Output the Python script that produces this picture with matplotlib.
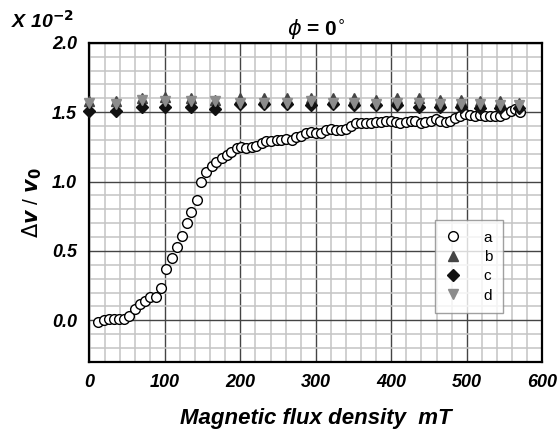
import matplotlib
matplotlib.use("Agg")
import matplotlib.pyplot as plt
from matplotlib.ticker import MultipleLocator

plt.rcParams['font.family'] = ['Liberation Sans', 'DejaVu Sans']

# series a (open circles)
x_a = [12, 19, 26, 32, 39, 46, 53, 60, 67, 74, 80, 88, 95, 102, 109, 116, 122,
       129, 135, 142, 148, 155, 162, 168, 175, 182, 188, 195, 201, 208, 215,
       221, 228, 234, 241, 248, 254, 261, 268, 274, 281, 287, 294, 300, 307,
       314, 320, 327, 333, 340, 347, 353, 360, 366, 373, 380, 386, 393, 399,
       406, 412, 419, 426, 432, 439, 445, 452, 459, 465, 472, 478, 485, 491,
       498, 504, 511, 518, 524, 531, 538, 544, 551, 558, 564, 570]
y_a = [-0.01, 0.00, 0.01, 0.01, 0.01, 0.01, 0.03, 0.08, 0.12, 0.14, 0.17, 0.17,
       0.23, 0.37, 0.45, 0.53, 0.61, 0.70, 0.78, 0.87, 1.00, 1.07, 1.11, 1.14,
       1.17, 1.19, 1.21, 1.24, 1.25, 1.24, 1.25, 1.26, 1.28, 1.29, 1.29, 1.30,
       1.30, 1.31, 1.30, 1.32, 1.33, 1.35, 1.36, 1.35, 1.35, 1.37, 1.38, 1.37,
       1.37, 1.38, 1.40, 1.42, 1.42, 1.42, 1.42, 1.43, 1.43, 1.44, 1.44, 1.43,
       1.42, 1.43, 1.44, 1.44, 1.42, 1.43, 1.44, 1.45, 1.44, 1.43, 1.44, 1.46,
       1.47, 1.49, 1.48, 1.47, 1.48, 1.47, 1.47, 1.47, 1.47, 1.49, 1.51, 1.52,
       1.50]

# series b, c, d share x positions
x_bcd = [0, 35, 70, 100, 134, 167, 199, 231, 262, 293, 323, 351, 380, 408,
         437, 464, 492, 518, 544, 569]
y_b = [1.58, 1.58, 1.60, 1.61, 1.60, 1.59, 1.60, 1.60, 1.60, 1.60, 1.60, 1.60,
       1.59, 1.60, 1.60, 1.59, 1.59, 1.58, 1.58, 1.57]
y_c = [1.51, 1.51, 1.54, 1.54, 1.54, 1.52, 1.56, 1.56, 1.56, 1.55, 1.56, 1.55,
       1.55, 1.55, 1.54, 1.54, 1.54, 1.53, 1.53, 1.53]
y_d = [1.57, 1.56, 1.59, 1.58, 1.58, 1.58, 1.57, 1.57, 1.57, 1.58, 1.57, 1.57,
       1.56, 1.57, 1.57, 1.56, 1.56, 1.56, 1.55, 1.55]

fig = plt.figure(figsize=(5.59, 4.33), dpi=100)
ax = fig.add_axes([0.160, 0.164, 0.810, 0.737])

ax.plot(x_a, y_a, 'o', ms=7, mfc='white', mec='black', mew=1.0, label='a',
        zorder=3, clip_on=False)
ax.plot(x_bcd, y_b, '^', ms=7, color='#444444', label='b', zorder=4, clip_on=False)
ax.plot(x_bcd, y_c, 'D', ms=6, color='#111111', label='c', zorder=5, clip_on=False)
ax.plot(x_bcd, y_d, 'v', ms=7, color='#8c8c8c', label='d', zorder=6, clip_on=False)

ax.set_xlim(0, 600)
ax.set_ylim(-0.3, 2.0)
ax.xaxis.set_major_locator(MultipleLocator(100))
ax.xaxis.set_minor_locator(MultipleLocator(20))
ax.yaxis.set_major_locator(MultipleLocator(0.5))
ax.yaxis.set_minor_locator(MultipleLocator(0.1))
ax.grid(which='minor', color='#c4c4c4', lw=1.1, zorder=0)
ax.grid(which='major', color='#444444', lw=1.0, zorder=1)
ax.set_axisbelow(True)
ax.tick_params(which='both', length=0, pad=9)
ax.set_yticks([0.0, 0.5, 1.0, 1.5, 2.0])
ax.set_yticklabels(['0.0', '0.5', '1.0', '1.5', '2.0'])
for lab in ax.get_xticklabels() + ax.get_yticklabels():
    lab.set_fontsize(13)
    lab.set_fontweight('bold')
    lab.set_fontstyle('italic')
for s in ax.spines.values():
    s.set_linewidth(1.6)
    s.set_color('black')

ax.set_xlabel('Magnetic flux density  mT', fontsize=16, fontweight='bold',
              fontstyle='italic', labelpad=12)
ax.set_ylabel(r'$\Delta\mathbfit{v}$ / $\mathbfit{v}_\mathbf{0}$', fontsize=15,
              labelpad=6)
ax.set_title(r'$\phi$ = 0$^{\circ}$', fontsize=15, fontweight='bold', pad=6)
fig.text(0.02, 0.935, r'X 10$^{\mathbf{-2}}$', fontsize=14, fontweight='bold',
         fontstyle='italic')

leg = ax.legend(loc='upper left', bbox_to_anchor=(0.763, 0.445), frameon=True,
                fancybox=False, edgecolor='#888888', fontsize=11,
                handletextpad=1.5, borderpad=0.7, labelspacing=0.35,
                handlelength=1.0, borderaxespad=0.0)
leg.get_frame().set_linewidth(1.0)

fig.savefig('out.png', dpi=100)
